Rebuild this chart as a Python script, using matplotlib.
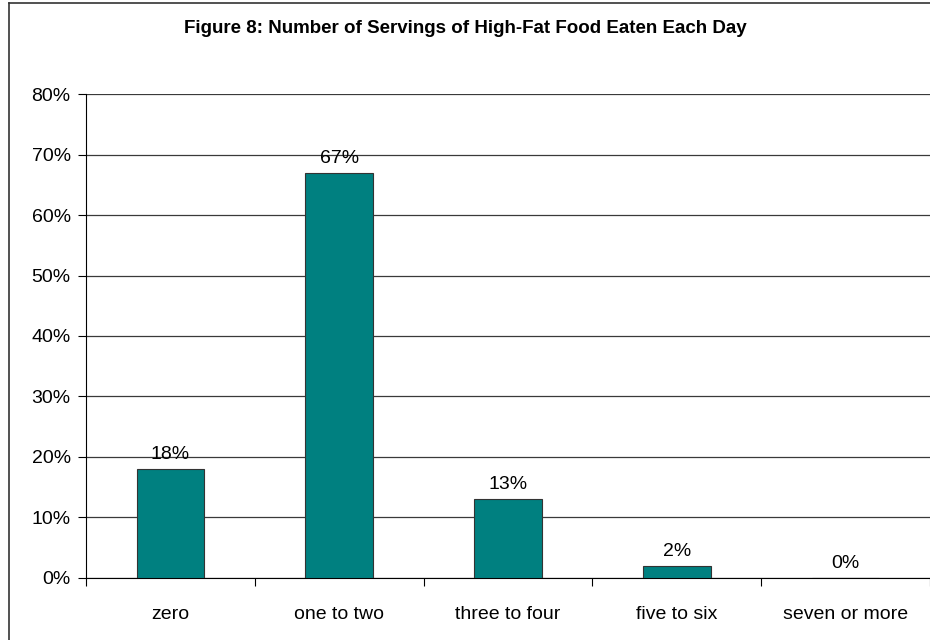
import matplotlib
matplotlib.use("Agg")
import matplotlib.pyplot as plt
from matplotlib.lines import Line2D

categories = ["zero", "one to two", "three to four", "five to six", "seven or more"]
values = [18, 67, 13, 2, 0]
yticks = [0, 10, 20, 30, 40, 50, 60, 70, 80]

plt.rcParams["font.family"] = ["Liberation Sans", "DejaVu Sans"]

fig = plt.figure(figsize=(9.3, 6.4), dpi=100)
ax = fig.add_axes([0.0925, 0.097, 0.9075, 0.756])

x = list(range(len(categories)))
ax.bar(x, values, width=0.4, color="#008080", edgecolor="#333333", linewidth=0.8, zorder=3)
for xi, v in zip(x, values):
    ax.text(xi, v + 1.0, f"{v}%", ha="center", va="bottom", fontsize=14)

ax.set_xlim(-0.5, len(categories) - 0.5)
ax.set_ylim(0, 80)
ax.set_yticks(yticks)
ax.set_yticklabels([f"{t}%" for t in yticks], fontsize=14)
ax.set_xticks(x)
ax.set_xticklabels(categories, fontsize=14)
ax.tick_params(axis="x", length=0, pad=20)
ax.set_xticks([i - 0.5 for i in range(len(categories) + 1)], minor=True)
ax.tick_params(axis="x", which="minor", length=6, width=0.8, direction="out")
ax.tick_params(axis="y", length=6, width=0.8, direction="out", pad=5)
ax.yaxis.grid(True, color="#3a3a3a", linewidth=0.9)
ax.set_axisbelow(True)
for s in ["top", "right"]:
    ax.spines[s].set_visible(False)

fig.text(0.5, 0.956, "Figure 8: Number of Servings of High-Fat Food Eaten Each Day",
         ha="center", va="center", fontsize=13.5, fontweight="bold")

# outer chart frame (only left and top edges visible in the reference)
fig.add_artist(Line2D([0.0097, 0.0097], [0.0, 0.995], transform=fig.transFigure,
                      color="#333333", linewidth=1.2))
fig.add_artist(Line2D([0.0097, 1.0], [0.995, 0.995], transform=fig.transFigure,
                      color="#333333", linewidth=1.2))

fig.savefig("out.png", dpi=100)
